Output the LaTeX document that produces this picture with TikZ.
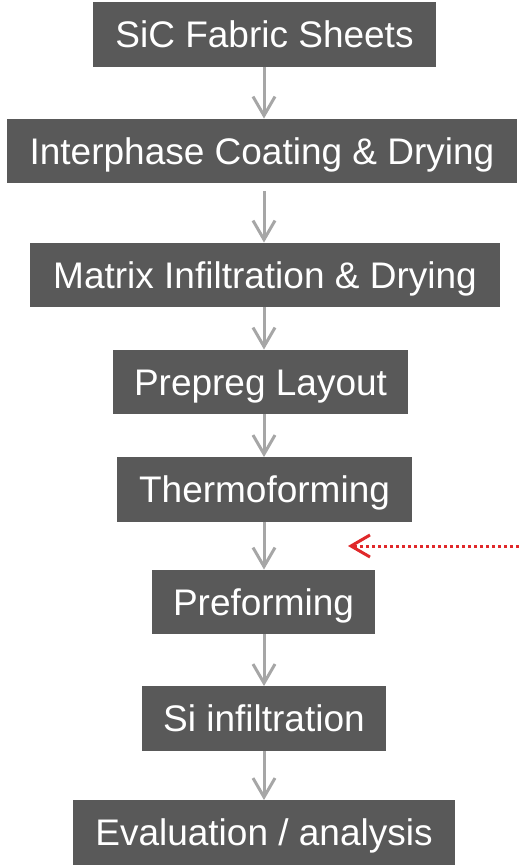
\documentclass[tikz,border=0pt]{standalone}
\usepackage{fontspec}
\setmainfont{Liberation Sans}
\usetikzlibrary{arrows.meta}
\definecolor{boxgrey}{HTML}{595959}
\definecolor{flowgrey}{HTML}{A6A6A6}
\definecolor{feedred}{HTML}{E0282A}
\tikzset{
  stepbox/.style={rectangle, fill=boxgrey, text=white, inner sep=0pt,
    minimum height=64.5pt, text height=26.5pt, text depth=0pt,
    font=\fontsize{37}{44}\selectfont},
  flow/.style={draw=flowgrey, line width=3pt,
    -{Straight Barb[length=19pt,width=22pt]}},
  feed/.style={draw=feedred, line width=3pt, dash pattern=on 3pt off 3pt,
    -{Straight Barb[length=19pt,width=22pt]}}
}
\begin{document}
\begin{tikzpicture}[x=1pt,y=-1pt]
  \useasboundingbox (0,0) rectangle (519,865);
  \coordinate (ax) at (264,0);

  \node[stepbox, minimum width=343pt] (b1) at (264.5,34.5)  {SiC Fabric Sheets};
  \node[stepbox, minimum width=510pt] (b2) at (262,151)     {Interphase Coating \& Drying};
  \node[stepbox, minimum width=470pt] (b3) at (265,275)     {Matrix Infiltration \& Drying};
  \node[stepbox, minimum width=295pt] (b4) at (260.5,382)   {Prepreg Layout};
  \node[stepbox, minimum width=295pt] (b5) at (264.5,489.5) {Thermoforming};
  \node[stepbox, minimum width=223pt] (b6) at (263.5,602)   {Preforming};
  \node[stepbox, minimum width=244pt] (b7) at (264,718.5)   {Si infiltration};
  \node[stepbox, minimum width=382pt] (b8) at (264,832.5)   {Evaluation / analysis};

  \draw[flow] (b1.south -| ax) -- (b2.north -| ax);
  \draw[flow, shorten <=8pt] (b2.south -| ax) -- (b3.north -| ax);
  \draw[flow] (b3.south -| ax) -- (b4.north -| ax);
  \draw[flow] (b4.south -| ax) -- (b5.north -| ax);
  \draw[flow] (b5.south -| ax) -- (b6.north -| ax);
  \draw[flow] (b6.south -| ax) -- (b7.north -| ax);
  \draw[flow] (b7.south -| ax) -- (b8.north -| ax);

  % dotted feed-in arrow from the right edge
  \coordinate (feedstart) at (519,546);
  \coordinate (feedend) at (348,546);
  \draw[feed] (feedstart) -- (feedend);
\end{tikzpicture}
\end{document}
